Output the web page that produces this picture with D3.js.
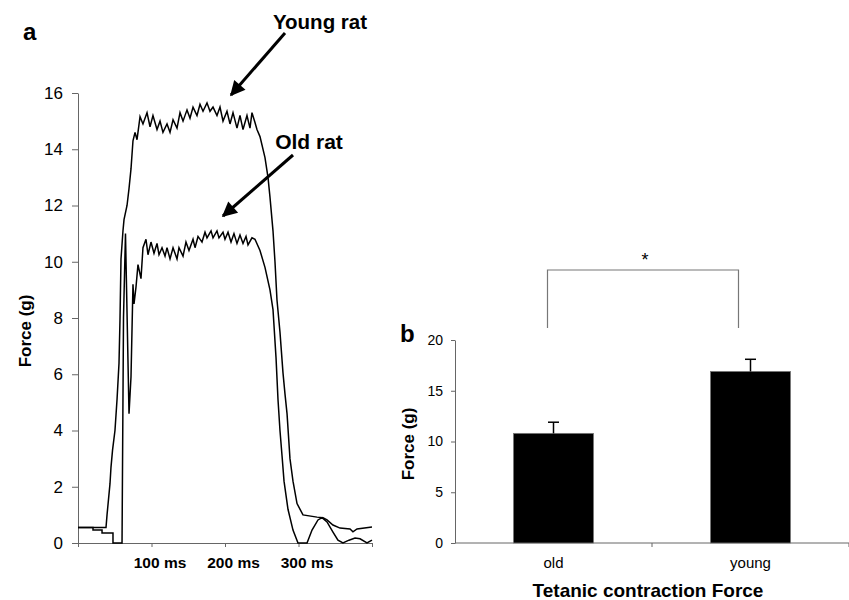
<!DOCTYPE html>
<html lang="en">
<head>
    <meta charset="utf-8">
    <title>Tetanic contraction force</title>
    <script src="https://d3js.org/d3.v7.min.js"></script>
    <style>
        body {
            margin: 0;
            background-color: #fff;
            font-family: "Liberation Sans", Arial, sans-serif;
        }

        .axis path,
        .axis line {
            stroke: #666;
        }

        .axis text {
            fill: #000;
            font-family: "Liberation Sans", Arial, sans-serif;
        }

        .trace {
            fill: none;
            stroke: #000;
            stroke-width: 1.5;
        }
    </style>
</head>
<body>
    <svg id="chart" width="849" height="600"></svg>

    <script>
        // panel a: force traces (time in ms, force in g)
        const youngTime = [0, 38.1, 39.5, 43.5, 44.9, 47, 50.3, 53.1, 55.8, 57.1, 58.5, 61.2, 62.6, 66.7, 69.4, 72.1, 74.8, 77.6, 80.3,
            84.4, 88.4, 93.9, 98.0, 102.0, 107.5, 111.6, 115.6, 121.1, 125.2, 129.3, 134.7, 138.8, 142.9, 148.3, 152.4,
            156.5, 161.9, 166.0, 170.1, 175.5, 179.6, 183.7, 189.1, 193.2, 197.3, 202.7, 206.8, 210.9, 216.3, 220.4,
            224.5, 229.9, 234.0, 236.7, 240.8, 243.5, 247.6, 254.4, 258.5, 261.2, 265.3, 268.0, 270.7, 274.8, 278.9,
            281.6, 284.4, 288.4, 292.5, 298.0, 306.1, 325.2, 333.3, 338.8, 346.9, 356.5, 370.1, 374.1, 379.6, 400];
        const youngForce = [0.55, 0.55, 1.0, 2.1, 2.7, 3.3, 4.0, 5.1, 6.4, 7.9, 10.1, 11.1, 11.5, 12.0, 12.6, 13.3, 14.3, 14.6, 14.34,
            15.16, 14.9, 15.3, 14.8, 15.2, 14.7, 15.0, 14.6, 14.9, 14.6, 15.05, 14.75, 15.3, 15.0, 15.4, 15.1,
            15.5, 15.2, 15.6, 15.35, 15.65, 15.35, 15.5, 15.2, 15.5, 15.0, 15.35, 14.9, 15.3, 14.75, 15.2,
            14.7, 15.2, 14.75, 15.3, 14.95, 14.7, 14.45, 13.7, 13.0, 12.3, 11.1, 10.0, 8.65, 7.5, 6.05,
            5.3, 4.6, 3.0, 2.2, 1.4, 1.0, 0.92, 0.9, 0.82, 0.64, 0.53, 0.5, 0.4, 0.5, 0.57];

        const oldTime = [0, 20.4, 20.4, 32.7, 32.7, 47.6, 47.6, 59.9, 61.9, 64.6, 69.4, 72.1, 74.8, 76.2, 78.9, 81.6, 85.7,
            88.4, 92.5, 95.2, 99.3, 103.4, 107.5, 110.2, 114.3, 118.4, 121.1, 125.2, 129.3, 134.7, 137.4, 142.9,
            146.9, 151.0, 156.5, 159.2, 163.3, 168.7, 172.8, 175.5, 181.0, 183.7, 189.1, 191.8, 197.3, 200.0,
            204.1, 208.2, 212.2, 216.3, 220.4, 224.5, 228.6, 231.3, 236.7, 240.8, 247.6, 254.4, 261.2, 265.3,
            269.4, 272.1, 274.8, 277.6, 280.3, 285.7, 292.5, 299.3, 311.6, 318.4, 326.5, 332.0, 338.8, 346.9,
            353.7, 360.5, 368.7, 376.9, 383.7, 393.2, 400];
        const oldForce = [0.55, 0.55, 0.46, 0.46, 0.36, 0.36, 0, 0, 8.0, 11.0, 4.6, 5.9, 9.2, 8.5, 9.1, 9.9, 9.4,
            10.5, 10.8, 10.25, 10.7, 10.3, 10.65, 10.25, 10.5, 10.2, 10.5, 10.1, 10.5, 10.1, 10.5, 10.2,
            10.7, 10.4, 10.8, 10.5, 10.9, 10.7, 11.05, 10.85, 11.1, 10.85, 11.1, 10.85, 11.05, 10.8,
            11.05, 10.7, 11.0, 10.65, 10.95, 10.65, 10.9, 10.6, 10.85, 10.8, 10.4, 9.8, 9.0, 8.3,
            6.6, 5.1, 4.0, 3.1, 2.2, 1.2, 0.46, 0, 0, 0.46, 0.82, 0.9, 0.75, 0.39,
            0.1, 0, 0.1, 0.18, 0.15, 0, 0.1];

        const timeTicks = [0, 100, 200, 300, 400];
        const forceTicksA = [0, 2, 4, 6, 8, 10, 12, 14, 16];

        // panel b: mean tetanic force with error bars
        const groups = ["old", "young"];
        const meanForce = [10.8, 16.9];
        const errForce = [1.1, 1.2];
        const forceTicksB = [0, 5, 10, 15, 20];

        const svg = d3.select("#chart");

        // ---------- panel a ----------
        const x = d3.scaleLinear().domain([0, 400]).range([78, 372]);
        const y = d3.scaleLinear().domain([0, 16]).range([543, 93]);

        svg.append("g")
            .attr("class", "axis")
            .attr("transform", "translate(78,0)")
            .call(d3.axisLeft(y).tickValues(forceTicksA).tickSize(6).tickSizeOuter(0).tickPadding(9))
            .selectAll("text")
            .style("font-size", "17px");

        const xAxisA = svg.append("g")
            .attr("class", "axis")
            .attr("transform", "translate(0,543)")
            .call(d3.axisBottom(x).tickValues(timeTicks).tickSize(4).tickSizeOuter(0)
                .tickFormat(d => (d > 0 && d < 400) ? d + " ms" : ""));
        xAxisA.selectAll("text")
            .attr("dx", 8)
            .attr("y", 14)
            .style("font-size", "15.5px")
            .style("font-weight", "bold");

        const line = d3.line()
            .x(d => x(d[0]))
            .y(d => y(d[1]));

        svg.append("path")
            .attr("class", "trace")
            .attr("d", line(d3.zip(youngTime, youngForce)));

        svg.append("path")
            .attr("class", "trace")
            .attr("d", line(d3.zip(oldTime, oldForce)));

        svg.append("text")
            .attr("x", 23).attr("y", 40)
            .style("font-size", "24px").style("font-weight", "bold")
            .text("a");

        svg.append("text")
            .attr("transform", "translate(31,331) rotate(-90)")
            .attr("text-anchor", "middle")
            .style("font-size", "17px").style("font-weight", "bold")
            .text("Force (g)");

        // arrows to the traces
        const defs = svg.append("defs");
        defs.append("marker")
            .attr("id", "head")
            .attr("viewBox", "0 0 10 10")
            .attr("refX", 9).attr("refY", 5)
            .attr("markerWidth", 6).attr("markerHeight", 5)
            .attr("markerUnits", "strokeWidth")
            .attr("orient", "auto")
            .append("path")
            .attr("d", "M0,0 L10,5 L0,10 z")
            .attr("fill", "#000");

        svg.append("text")
            .attr("x", 320).attr("y", 29)
            .attr("text-anchor", "middle")
            .style("font-size", "20.5px").style("font-weight", "bold")
            .text("Young rat");
        svg.append("line")
            .attr("x1", 285).attr("y1", 33).attr("x2", 231).attr("y2", 95)
            .attr("stroke", "#000").attr("stroke-width", 3)
            .attr("marker-end", "url(#head)");

        svg.append("text")
            .attr("x", 309).attr("y", 149)
            .attr("text-anchor", "middle")
            .style("font-size", "21px").style("font-weight", "bold")
            .text("Old rat");
        svg.append("line")
            .attr("x1", 293).attr("y1", 155).attr("x2", 223).attr("y2", 216)
            .attr("stroke", "#000").attr("stroke-width", 3)
            .attr("marker-end", "url(#head)");

        // ---------- panel b ----------
        const xb = d3.scaleBand().domain(groups).range([455, 849])
            .paddingInner(0.594).paddingOuter(0.297);
        const yb = d3.scaleLinear().domain([0, 20]).range([543, 340]);

        svg.append("g")
            .attr("class", "axis")
            .attr("transform", "translate(455,0)")
            .call(d3.axisLeft(yb).tickValues(forceTicksB).tickSize(4).tickSizeOuter(0).tickPadding(8))
            .selectAll("text")
            .style("font-size", "14px");

        const gap = xb.step() * xb.paddingInner() / 2;
        const xbAxis = svg.append("g").attr("class", "axis");
        xbAxis.append("line")
            .attr("x1", 455).attr("x2", 849).attr("y1", 543).attr("y2", 543);
        xbAxis.selectAll(".sep")
            .data(groups)
            .join("line")
            .attr("x1", d => xb(d) + xb.bandwidth() + gap)
            .attr("x2", d => xb(d) + xb.bandwidth() + gap)
            .attr("y1", 543).attr("y2", 547);

        svg.selectAll(".bar")
            .data(groups)
            .join("rect")
            .attr("class", "bar")
            .attr("x", d => xb(d))
            .attr("width", xb.bandwidth())
            .attr("y", (d, i) => yb(meanForce[i]))
            .attr("height", (d, i) => yb(0) - yb(meanForce[i]))
            .attr("fill", "#000")
            .attr("stroke", "#777")
            .attr("stroke-width", 0.8);

        const errG = svg.selectAll(".err")
            .data(groups)
            .join("g")
            .attr("class", "err");
        errG.append("line")
            .attr("x1", d => xb(d) + xb.bandwidth() / 2)
            .attr("x2", d => xb(d) + xb.bandwidth() / 2)
            .attr("y1", (d, i) => yb(meanForce[i]))
            .attr("y2", (d, i) => yb(meanForce[i] + errForce[i]))
            .attr("stroke", "#000").attr("stroke-width", 1.5);
        errG.append("line")
            .attr("x1", d => xb(d) + xb.bandwidth() / 2 - 5.5)
            .attr("x2", d => xb(d) + xb.bandwidth() / 2 + 5.5)
            .attr("y1", (d, i) => yb(meanForce[i] + errForce[i]))
            .attr("y2", (d, i) => yb(meanForce[i] + errForce[i]))
            .attr("stroke", "#000").attr("stroke-width", 1.5);

        svg.selectAll(".cat")
            .data(groups)
            .join("text")
            .attr("class", "cat")
            .attr("x", d => xb(d) + xb.bandwidth() / 2)
            .attr("y", 568)
            .attr("text-anchor", "middle")
            .style("font-size", "15px")
            .text(d => d);

        // significance bracket
        const bx1 = xb("old") + xb.bandwidth() / 2 - 6;
        const bx2 = xb("young") + xb.bandwidth() / 2 - 12;
        svg.append("path")
            .attr("d", `M${bx1},328 V270 H${bx2} V328`)
            .attr("fill", "none")
            .attr("stroke", "#777")
            .attr("stroke-width", 1.2);
        svg.append("text")
            .attr("x", (bx1 + bx2) / 2 + 2).attr("y", 266)
            .attr("text-anchor", "middle")
            .style("font-size", "18px")
            .text("*");

        svg.append("text")
            .attr("x", 400).attr("y", 342)
            .style("font-size", "24px").style("font-weight", "bold")
            .text("b");

        svg.append("text")
            .attr("transform", "translate(414,444) rotate(-90)")
            .attr("text-anchor", "middle")
            .style("font-size", "17px").style("font-weight", "bold")
            .text("Force (g)");

        svg.append("text")
            .attr("x", 648).attr("y", 597)
            .attr("text-anchor", "middle")
            .style("font-size", "19px").style("font-weight", "bold")
            .text("Tetanic contraction Force");
    </script>
</body>
</html>
